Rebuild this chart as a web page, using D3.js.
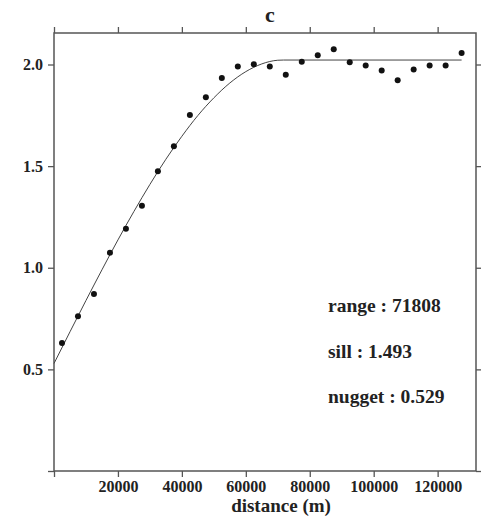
<!DOCTYPE html>
<html>
<head>
<meta charset="utf-8">
<script src="https://cdn.jsdelivr.net/npm/d3@7"></script>
<style>
  body { margin: 0; background: #fff; }
  text { font-family: "Liberation Serif", "Times New Roman", serif; font-weight: bold; fill: #222; }
</style>
</head>
<body>
<div id="chart"></div>
<script>
// experimental semivariogram (lag distance, semivariance)
const lagDist = [2500, 7500, 12500, 17500, 22500, 27500, 32500, 37500, 42500, 47500,
  52500, 57500, 62500, 67500, 72500, 77500, 82500, 87500, 92500, 97500,
  102500, 107500, 112500, 117500, 122500, 127500];
const gammaVals = [0.630, 0.761, 0.871, 1.074, 1.192, 1.305, 1.475, 1.598, 1.752, 1.839,
  1.934, 1.990, 2.001, 1.990, 1.949, 2.014, 2.046, 2.075, 2.011, 1.995,
  1.970, 1.923, 1.975, 1.995, 1.995, 2.056];

// fitted model line
const modelDist = [0, 5000, 10000, 15000, 20000, 25000, 30000, 35000, 40000, 45000,
  50000, 55000, 60000, 65000, 70000, 71808, 127500];
const modelGamma = [0.529, 0.685, 0.839, 0.990, 1.137, 1.277, 1.410, 1.534, 1.647, 1.749,
  1.836, 1.909, 1.965, 2.003, 2.021, 2.022, 2.022];

const xTicks = [0, 20000, 40000, 60000, 80000, 100000, 120000];
const yTicks = [0, 0.5, 1.0, 1.5, 2.0];
const notes = ["range : 71808", "sill : 1.493", "nugget : 0.529"];

const margin = { top: 33, right: 5, bottom: 49, left: 54 };
const width = 481 - margin.left - margin.right;
const height = 520 - margin.top - margin.bottom;

const x = d3.scaleLinear().domain([0, 132000]).range([0, width]);
const y = d3.scaleLinear().domain([0, 2.155]).range([height, 0]);

const svg = d3.select("#chart")
  .append("svg")
  .attr("width", width + margin.left + margin.right)
  .attr("height", height + margin.top + margin.bottom)
  .append("g")
  .attr("transform", `translate(${margin.left}, ${margin.top})`);

const noZero = f => d => d === 0 ? "" : f(d);

const axes = [
  svg.append("g").attr("transform", `translate(0, ${height})`)
    .call(d3.axisBottom(x).tickValues(xTicks).tickSize(6).tickPadding(4).tickFormat(noZero(d3.format("d")))),
  svg.append("g")
    .call(d3.axisTop(x).tickValues(xTicks).tickSize(6).tickFormat("")),
  svg.append("g")
    .call(d3.axisLeft(y).tickValues(yTicks).tickSize(6).tickPadding(5).tickFormat(noZero(d3.format(".1f")))),
  svg.append("g").attr("transform", `translate(${width}, 0)`)
    .call(d3.axisRight(y).tickValues(yTicks).tickSize(6).tickFormat(""))
];
axes.forEach(a => {
  a.select(".domain").remove();
  a.selectAll(".tick line").attr("stroke", "#555").attr("stroke-width", 1.3);
  a.selectAll(".tick text").attr("font-size", 16).attr("fill", "#222");
});

svg.append("rect")
  .attr("width", width)
  .attr("height", height)
  .attr("fill", "none")
  .attr("stroke", "#555")
  .attr("stroke-width", 1.5);

const line = d3.line()
  .x((d, i) => x(modelDist[i]))
  .y((d, i) => y(modelGamma[i]))
  .curve(d3.curveMonotoneX);

svg.append("path")
  .datum(modelGamma)
  .attr("d", line)
  .attr("fill", "none")
  .attr("stroke", "#444")
  .attr("stroke-width", 1);

svg.selectAll(".pt")
  .data(gammaVals)
  .join("circle")
  .attr("class", "pt")
  .attr("cx", (d, i) => x(lagDist[i]))
  .attr("cy", d => y(d))
  .attr("r", 3)
  .attr("fill", "#111");

// title
svg.append("text")
  .attr("x", 216)
  .attr("y", -11)
  .attr("text-anchor", "middle")
  .attr("font-size", 22)
  .text("c");

// x axis label
svg.append("text")
  .attr("x", 227)
  .attr("y", height + 41)
  .attr("text-anchor", "middle")
  .attr("font-size", 19)
  .text("distance (m)");

// model parameters
svg.selectAll(".note")
  .data(notes)
  .join("text")
  .attr("class", "note")
  .attr("x", 274)
  .attr("y", (d, i) => 279 + i * 45.5)
  .attr("font-size", 19.5)
  .text(d => d);
</script>
</body>
</html>
